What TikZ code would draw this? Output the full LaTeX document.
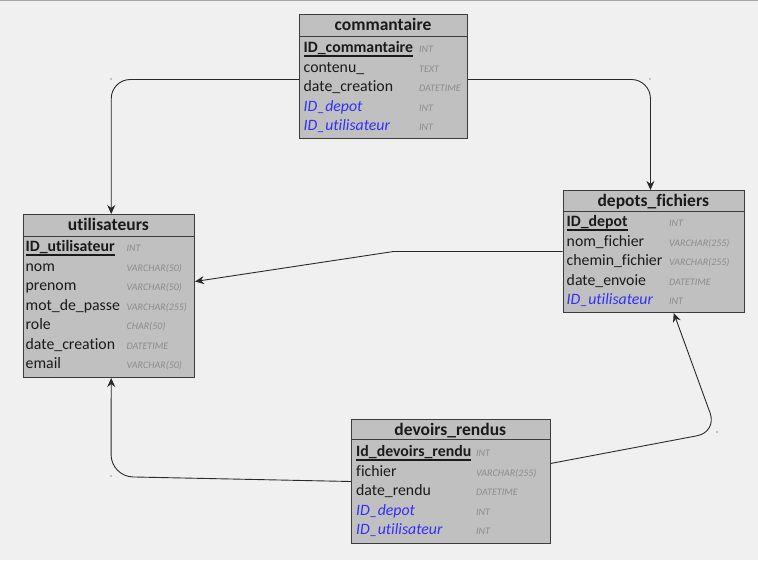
\documentclass[tikz,border=0pt]{standalone}
\usepackage{fontspec}
\setmainfont[Ligatures=NoCommon,RawFeature={-liga;-dlig;-clig}]{Carlito}
\usetikzlibrary{arrows.meta,calc}
\definecolor{bgc}{HTML}{F0F0F0}
\definecolor{tblfill}{HTML}{C0C0C0}
\definecolor{tblborder}{HTML}{3C3C3C}
\definecolor{txtc}{HTML}{1A1A1A}
\definecolor{fkc}{HTML}{3030F8}
\definecolor{typc}{HTML}{8C8C8C}
\definecolor{connc}{HTML}{2A2A2A}
\tikzset{
  tbl/.style={draw=tblborder, fill=tblfill, line width=1pt, inner sep=0pt, anchor=north west},
  tblline/.style={draw=tblborder, line width=1pt},
  hdr/.style={inner sep=0pt, anchor=base, text=txtc, font=\fontsize{17.5}{20}\selectfont\bfseries},
  fld/.style={inner sep=0pt, anchor=base west, text=txtc, font=\fontsize{15.8}{19}\selectfont},
  pk/.style={inner sep=0pt, anchor=base west, text=txtc, font=\fontsize{15.8}{19}\selectfont\bfseries},
  fk/.style={inner sep=0pt, anchor=base west, text=fkc, font=\fontsize{15.8}{19}\selectfont\itshape},
  typ/.style={inner sep=0pt, anchor=base west, text=typc, font=\fontsize{10}{11}\selectfont\itshape},
  ul/.style={draw=txtc, line width=1.2pt},
  conn/.style={draw=connc, line width=0.9pt, -{Stealth[length=9pt,width=8pt]}},
  cdot/.style={fill=connc, inner sep=0pt, minimum size=1.2pt, circle}
}
\begin{document}
\begin{tikzpicture}[x=1pt,y=-1pt]
\fill[bgc] (0,0) rectangle (758,562);
\useasboundingbox (0,0) rectangle (758,562);
\draw[draw=gray!70, line width=1pt] (0,0.5) -- (758,0.5);
\fill[white] (0,559.5) rectangle (758,562);

% ---------- commantaire ----------
\node[tbl, minimum width=168pt, minimum height=124pt] (ctab) at (299,14) {};
\draw[tblline] ($(ctab.north west)+(0,-22pt)$) -- ($(ctab.north east)+(0,-22pt)$);
\node[hdr] (ctitle) at (383,30.5) {commantaire};
\node[pk] (c1) at (303.5,52.5) {ID\_commantaire};
\draw[ul] ([yshift=-3.5pt]c1.base west) -- ([yshift=-3.5pt]c1.base east);
\node[fld] (c2) at (303.5,72) {contenu\_};
\node[fld] (c3) at (303.5,91.5) {date\_creation};
\node[fk] (c4) at (303.5,111) {ID\_depot};
\node[fk] (c5) at (303.5,130.5) {ID\_utilisateur};
\node[typ] (c1t) at (419,52.5) {INT};
\node[typ] (c2t) at (419,72) {TEXT};
\node[typ] (c3t) at (419,91.5) {DATETIME};
\node[typ] (c4t) at (419,111) {INT};
\node[typ] (c5t) at (419,130.5) {INT};

% ---------- utilisateurs ----------
\node[tbl, minimum width=171.5pt, minimum height=163pt] (utab) at (22.5,214) {};
\draw[tblline] ($(utab.north west)+(0,-22pt)$) -- ($(utab.north east)+(0,-22pt)$);
\node[hdr] (utitle) at (108.3,230.5) {utilisateurs};
\node[pk] (u1) at (25.5,251.5) {ID\_utilisateur};
\draw[ul] ([yshift=-3.5pt]u1.base west) -- ([yshift=-3.5pt]u1.base east);
\node[fld] (u2) at (25.5,271) {nom};
\node[fld] (u3) at (25.5,290.5) {prenom};
\node[fld] (u4) at (25.5,310) {mot\_de\_passe};
\node[fld] (u5) at (25.5,329.5) {role};
\node[fld] (u6) at (25.5,349) {date\_creation};
\node[fld] (u7) at (25.5,368.5) {email};
\node[typ] (u1t) at (126.5,251.5) {INT};
\node[typ] (u2t) at (126.5,271) {VARCHAR(50)};
\node[typ] (u3t) at (126.5,290.5) {VARCHAR(50)};
\node[typ] (u4t) at (126.5,310) {VARCHAR(255)};
\node[typ] (u5t) at (126.5,329.5) {CHAR(50)};
\node[typ] (u6t) at (126.5,349) {DATETIME};
\node[typ] (u7t) at (126.5,368.5) {VARCHAR(50)};

% ---------- depots_fichiers ----------
\node[tbl, minimum width=181.5pt, minimum height=122pt] (dtab) at (562.5,190) {};
\draw[tblline] ($(dtab.north west)+(0,-21pt)$) -- ($(dtab.north east)+(0,-21pt)$);
\node[hdr] (dtitle) at (653.3,206) {depots\_fichiers};
\node[pk] (d1) at (566.5,226.5) {ID\_depot};
\draw[ul] ([yshift=-3.5pt]d1.base west) -- ([yshift=-3.5pt]d1.base east);
\node[fld] (d2) at (566.5,246) {nom\_fichier};
\node[fld] (d3) at (566.5,265.5) {chemin\_fichier};
\node[fld] (d4) at (566.5,285) {date\_envoie};
\node[fk] (d5) at (566.5,304.5) {ID\_utilisateur};
\node[typ] (d1t) at (669,226.5) {INT};
\node[typ] (d2t) at (669,246) {VARCHAR(255)};
\node[typ] (d3t) at (669,265.5) {VARCHAR(255)};
\node[typ] (d4t) at (669,285) {DATETIME};
\node[typ] (d5t) at (669,304.5) {INT};

% ---------- devoirs_rendus ----------
\node[tbl, minimum width=198.5pt, minimum height=124pt] (vtab) at (351,419) {};
\draw[tblline] ($(vtab.north west)+(0,-20pt)$) -- ($(vtab.north east)+(0,-20pt)$);
\node[hdr] (vtitle) at (450.3,435.5) {devoirs\_rendus};
\node[pk] (v1) at (356,456.5) {Id\_devoirs\_rendu};
\draw[ul] ([yshift=-3.5pt]v1.base west) -- ([yshift=-3.5pt]v1.base east);
\node[fld] (v2) at (356,476) {fichier};
\node[fld] (v3) at (356,495.5) {date\_rendu};
\node[fk] (v4) at (356,515) {ID\_depot};
\node[fk] (v5) at (356,534.5) {ID\_utilisateur};
\node[typ] (v1t) at (476,456.5) {INT};
\node[typ] (v2t) at (476,476) {VARCHAR(255)};
\node[typ] (v3t) at (476,495.5) {DATETIME};
\node[typ] (v4t) at (476,515) {INT};
\node[typ] (v5t) at (476,534.5) {INT};

% ---------- connectors ----------
\draw[conn, rounded corners=19pt] ([yshift=-3pt]ctab.west) -| ([xshift=2.5pt]utab.north);
\draw[conn, rounded corners=19pt] ([yshift=-3pt]ctab.east) -| ([xshift=-3.3pt]dtab.north);
\draw[conn] (dtab.west) -- ++(-169,0) -- ([yshift=14.5pt]utab.east);
\draw[conn, rounded corners=22pt] (vtab.west) -- (111,476.5) -- ([xshift=2.5pt]utab.south);
\draw[conn, rounded corners=20pt] ([yshift=18pt]vtab.east) -- (717,432) -- ([xshift=20pt]dtab.south);

% tiny corner dots
\node[cdot] (k1) at (111,79) {};
\node[cdot] (k2) at (650,79) {};
\node[cdot] (k3) at (717,432) {};
\node[cdot] (k4) at (111,476) {};
\end{tikzpicture}
\end{document}
